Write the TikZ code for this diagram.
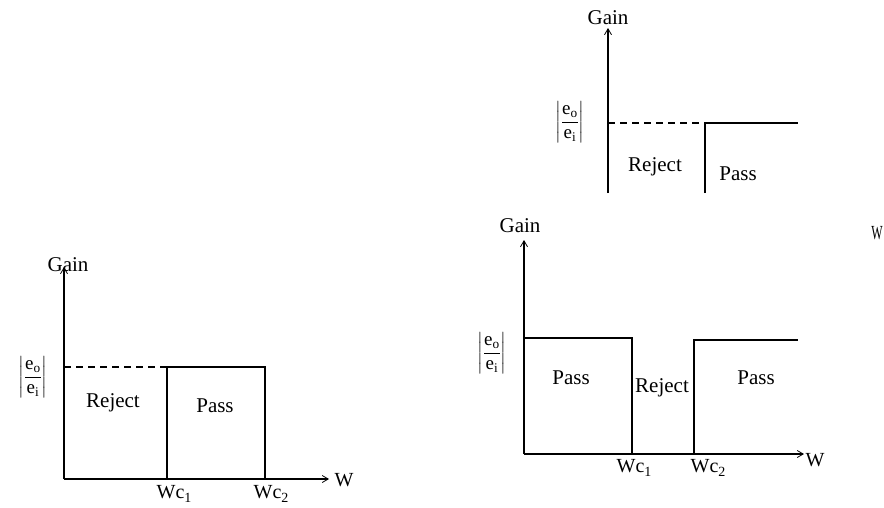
\documentclass[tikz,border=0pt]{standalone}
\usepackage{amsmath}
\usepackage{fontspec}
\setmainfont{Liberation Serif}
\usetikzlibrary{arrows.meta}
\newcommand{\gfrac}{$\left|\dfrac{\text{e}_{\text{o}}}{\text{e}_{\text{i}}}\right|$}
\newcommand{\wclab}[1]{Wc\raisebox{-0.4ex}{\fontsize{14}{14}\selectfont #1}}
\begin{document}
\begin{tikzpicture}[x=1pt,y=-1pt,
  lbl/.style={inner sep=0pt, font=\fontsize{21}{21}\selectfont},
  wc/.style={inner sep=0pt, font=\fontsize{20}{20}\selectfont},
  frc/.style={inner sep=0pt, font=\fontsize{19}{19}\selectfont},
  ln/.style={line width=1.5pt},
  axis/.style={line width=1.5pt, -{Straight Barb[length=6pt,width=7pt,line width=0.8pt]}},
  dsh/.style={line width=1.3pt, dash pattern=on 7pt off 5pt}]
\useasboundingbox (0,0) rectangle (884,507);

% ---------- top diagram ----------
\coordinate (tO) at (608,193);
\coordinate (tY) at (608,28);
\coordinate (tD) at (608,123);
\coordinate (tA) at (705,123);
\coordinate (tAb) at (705,193);
\coordinate (tE) at (798,123);
\draw[axis] (tO) -- (tY);
\node[lbl] (tgain) at (608,18) {Gain};
\draw[dsh] (tD) -- (tA);
\draw[ln] (tAb) -- (tA) -- (tE);
\node[lbl] (trej) at (655,167) {Reject};
\node[lbl] (tpass) at (738,174) {Pass};
\node[frc] (tfrac) at (570,122) {\gfrac};

% ---------- bottom-left diagram ----------
\coordinate (lO) at (64,479);
\coordinate (lY) at (64,267);
\coordinate (lX) at (329,479);
\coordinate (lD) at (64,367);
\coordinate (l1b) at (167,479);
\coordinate (l1t) at (167,367);
\coordinate (l2t) at (265,367);
\coordinate (l2b) at (265,479);
\draw[axis] (lO) -- (lY);
\draw[axis] (lO) -- (lX);
\node[lbl] (lgain) at (68,265) {Gain};
\node[wc] (lw) at (344,480) {W};
\draw[dsh] (lD) -- (l1t);
\draw[ln] (l1b) -- (l1t) -- (l2t) -- (l2b);
\node[lbl] (lrej) at (113,403) {Reject};
\node[lbl] (lpass) at (215,406) {Pass};
\node[frc] (lfrac) at (33,377) {\gfrac};
\node[wc] (lwc1) at (174,494) {\wclab{1}};
\node[wc] (lwc2) at (271,494) {\wclab{2}};

% ---------- bottom-right diagram ----------
\coordinate (rO) at (524,454);
\coordinate (rY) at (524,240);
\coordinate (rX) at (804,454);
\coordinate (rP1) at (524,338);
\coordinate (r1t) at (632,338);
\coordinate (r1b) at (632,454);
\coordinate (r2b) at (694,454);
\coordinate (r2t) at (694,340);
\coordinate (rE) at (798,340);
\draw[axis] (rO) -- (rY);
\draw[axis] (rO) -- (rX);
\node[lbl] (rgain) at (520,226) {Gain};
\node[wc] (rw) at (815,460) {W};
\draw[ln] (rP1) -- (r1t) -- (r1b);
\draw[ln] (r2b) -- (r2t) -- (rE);
\node[lbl] (rpass1) at (571,378) {Pass};
\node[lbl] (rrej) at (662,388) {Reject};
\node[lbl] (rpass2) at (756,378) {Pass};
\node[frc] (rfrac) at (492,353) {\gfrac};
\node[wc] (rwc1) at (634,468) {\wclab{1}};
\node[wc] (rwc2) at (708,468) {\wclab{2}};

% stray label at the right edge
\node[wc] (stray) at (877,233) {\scalebox{0.6}[1]{W}};
\end{tikzpicture}
\end{document}
